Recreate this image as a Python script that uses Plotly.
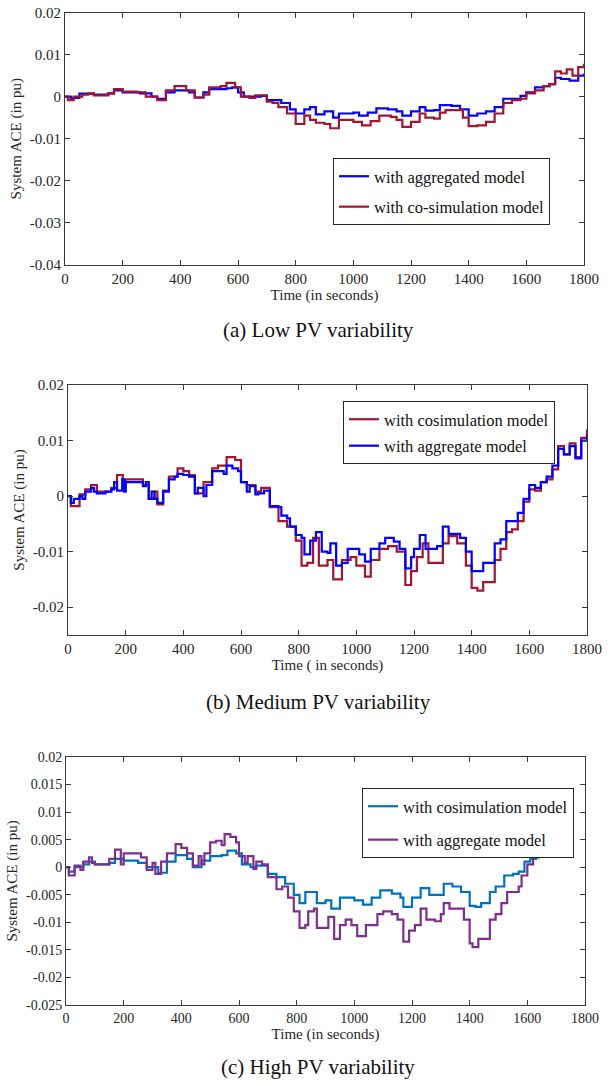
import plotly.graph_objects as go

# ---------------- DATA ----------------
# Panel (a) Low PV variability
t_a_agg = [0, 20, 50, 100, 150, 170, 200, 260, 300, 320, 350, 380, 430, 450, 480, 500, 560, 580, 600, 620,
           680, 700, 750, 780, 800, 830, 850, 870, 900, 930, 950, 1000, 1020, 1050, 1080, 1120, 1150, 1170,
           1200, 1230, 1250, 1280, 1300, 1340, 1370, 1400, 1430, 1460, 1490, 1520, 1560, 1580, 1600, 1630,
           1660, 1680, 1700, 1720, 1750, 1780, 1800]
v_a_agg = [0, -0.0003, 0.0007, 0.0005, 0.0008, 0.0015, 0.001, 0.0008, 0, -0.0005, 0.001, 0.0015, 0.001,
           -0.0002, 0.001, 0.0018, 0.002, 0.0022, 0.001, 0, 0.0002, -0.0008, -0.0015, -0.003, -0.004, -0.003,
           -0.0025, -0.0042, -0.0035, -0.005, -0.004, -0.0038, -0.0045, -0.0038, -0.0028, -0.003, -0.0035,
           -0.0045, -0.0035, -0.0025, -0.0033, -0.0032, -0.002, -0.0022, -0.003, -0.0045, -0.004, -0.0035,
           -0.0025, -0.0005, -0.0005, 0.0002, 0.001, 0.0022, 0.0025, 0.003, 0.0045, 0.0042, 0.0038, 0.005, 0.0055]

t_a_cos = [0, 10, 30, 60, 80, 100, 150, 170, 200, 250, 280, 320, 350, 380, 420, 450, 480, 500, 540, 560,
           590, 610, 640, 660, 700, 720, 740, 770, 800, 830, 850, 870, 900, 920, 950, 1000, 1030, 1060, 1090,
           1130, 1150, 1170, 1200, 1230, 1250, 1280, 1300, 1320, 1360, 1380, 1400, 1430, 1460, 1490, 1520,
           1550, 1580, 1600, 1630, 1660, 1680, 1700, 1720, 1740, 1760, 1780, 1800]
v_a_cos = [0, -0.0008, 0, 0.0005, 0.0008, 0.0003, 0.0008, 0.0018, 0.0012, 0.001, 0, -0.0008, 0.0015, 0.0025,
           0.0015, -0.0002, 0.0005, 0.0022, 0.0025, 0.0033, 0.0022, 0, -0.0003, 0.0003, -0.0012, -0.0015,
           -0.0025, -0.004, -0.0065, -0.0045, -0.0055, -0.0062, -0.0065, -0.0075, -0.0055, -0.006, -0.0068,
           -0.0058, -0.0045, -0.0048, -0.0055, -0.0072, -0.006, -0.004, -0.005, -0.0052, -0.0038, -0.0032,
           -0.0032, -0.005, -0.007, -0.0068, -0.006, -0.004, -0.0015, -0.0008, -0.0005, 0.0008, 0.0015,
           0.0025, 0.003, 0.006, 0.0055, 0.0065, 0.005, 0.007, 0.0078]

# Panel (b) Medium PV variability
t_b_cos = [0, 10, 40, 60, 80, 100, 150, 170, 190, 200, 230, 260, 280, 300, 310, 330, 350, 380, 400, 420,
           440, 470, 500, 520, 550, 580, 600, 620, 650, 670, 700, 730, 760, 790, 810, 830, 850, 870, 900,
           920, 950, 980, 1000, 1030, 1050, 1080, 1110, 1140, 1170, 1190, 1210, 1230, 1250, 1280, 1300,
           1320, 1350, 1380, 1400, 1420, 1440, 1460, 1480, 1500, 1520, 1540, 1560, 1580, 1600, 1620, 1640,
           1660, 1680, 1700, 1720, 1740, 1760, 1780, 1800]
v_b_cos = [0, -0.0018, 0.0003, 0.0012, 0.002, 0.0008, 0.0015, 0.0038, 0.001, 0.003, 0.003, 0.002, -0.0005,
           0.0008, -0.0015, 0.001, 0.0035, 0.005, 0.0045, 0.0038, 0.0005, 0.0025, 0.005, 0.0055, 0.007,
           0.0065, 0.0025, 0.002, 0.0008, 0.0015, -0.002, -0.0045, -0.0055, -0.008, -0.0125, -0.012, -0.0075,
           -0.0125, -0.0115, -0.015, -0.0115, -0.011, -0.0125, -0.0145, -0.0115, -0.0095, -0.009, -0.01,
           -0.016, -0.0135, -0.011, -0.0085, -0.012, -0.012, -0.0085, -0.0072, -0.0085, -0.0125, -0.0165,
           -0.017, -0.0155, -0.0155, -0.0115, -0.0095, -0.0065, -0.006, -0.0045, -0.001, 0.0012, 0.001,
           0.0025, 0.003, 0.0048, 0.009, 0.0075, 0.0095, 0.007, 0.0105, 0.012]

t_b_agg = [0, 10, 20, 40, 50, 60, 80, 90, 100, 130, 150, 160, 170, 188, 195, 200, 230, 260, 270, 280, 290,
           300, 310, 330, 350, 370, 380, 400, 420, 440, 450, 470, 480, 500, 520, 540, 550, 570, 590, 600,
           620, 630, 650, 660, 680, 700, 730, 740, 760, 770, 790, 810, 820, 840, 860, 880, 900, 910, 930,
           950, 970, 990, 1010, 1030, 1050, 1080, 1100, 1130, 1150, 1170, 1190, 1200, 1220, 1240, 1280,
           1300, 1320, 1360, 1380, 1400, 1420, 1440, 1460, 1480, 1500, 1520, 1540, 1560, 1580, 1600, 1620,
           1640, 1660, 1680, 1700, 1720, 1740, 1760, 1780, 1800]
v_b_agg = [0, -0.0012, -0.0005, 0, -0.0005, 0.0008, 0.0015, 0.0008, 0.0005, 0.0008, 0.0012, 0.0025, 0.001,
           0.003, 0.0008, 0.0025, 0.0025, 0.0018, 0.0025, -0.0005, 0.0008, -0.0005, -0.0012, 0.0008, 0.003,
           0.0035, 0.004, 0.0038, 0.0035, 0.0005, 0.0015, 0, 0.002, 0.0045, 0.0045, 0.004, 0.0055, 0.005,
           0.0045, 0.0025, 0.0008, 0.0018, 0.0003, 0.0005, 0.001, -0.0018, -0.002, -0.0035, -0.004, -0.0055,
           -0.007, -0.0075, -0.0105, -0.008, -0.0065, -0.01, -0.0102, -0.0085, -0.0125, -0.012, -0.0095,
           -0.0095, -0.0105, -0.0118, -0.0095, -0.0085, -0.0075, -0.0082, -0.0095, -0.013, -0.011, -0.0095,
           -0.007, -0.0095, -0.009, -0.0055, -0.0068, -0.0075, -0.01, -0.0135, -0.0135, -0.012, -0.012,
           -0.0085, -0.0078, -0.0045, -0.0045, -0.003, -0.0005, 0.002, 0.0015, 0.0025, 0.0035, 0.0055,
           0.0085, 0.0075, 0.009, 0.0068, 0.01, 0.011]

# Panel (c) High PV variability
t_c_cos = [0, 10, 30, 60, 80, 100, 150, 170, 200, 250, 280, 320, 350, 380, 420, 440, 470, 500, 540, 560,
           590, 610, 640, 660, 700, 730, 760, 790, 810, 830, 850, 870, 900, 920, 950, 1000, 1030, 1060,
           1090, 1130, 1160, 1170, 1200, 1230, 1260, 1290, 1310, 1340, 1370, 1400, 1420, 1440, 1470, 1490,
           1520, 1550, 1570, 1590, 1610, 1630, 1660]
v_c_cos = [0, -0.0008, 0, 0.0005, 0.001, 0.0005, 0.0008, 0.0015, 0.0012, 0.0008, 0, -0.001, 0.001, 0.0022,
           0.0015, 0, 0.0012, 0.002, 0.0022, 0.003, 0.0025, 0.0005, 0, 0.0003, -0.0012, -0.0018, -0.003,
           -0.005, -0.0065, -0.0045, -0.0045, -0.0065, -0.006, -0.0075, -0.0055, -0.006, -0.0068, -0.0055,
           -0.0042, -0.0048, -0.0055, -0.0072, -0.0055, -0.0038, -0.005, -0.005, -0.003, -0.0035, -0.0045,
           -0.007, -0.0072, -0.0065, -0.0045, -0.0035, -0.0015, -0.0012, -0.0008, 0.001, 0.0015, 0.003, 0.004]

t_c_agg = [0, 10, 30, 50, 60, 80, 90, 100, 150, 170, 190, 200, 230, 260, 280, 300, 310, 330, 350, 380, 400,
           420, 440, 460, 470, 480, 500, 520, 540, 550, 570, 590, 600, 620, 630, 650, 660, 680, 700, 720,
           730, 750, 770, 790, 810, 830, 840, 860, 870, 900, 910, 930, 950, 970, 990, 1010, 1030, 1040,
           1060, 1080, 1100, 1130, 1150, 1170, 1190, 1210, 1230, 1250, 1280, 1300, 1310, 1330, 1360, 1380,
           1400, 1410, 1430, 1450, 1470, 1490, 1510, 1530, 1550, 1570, 1580, 1600, 1620, 1640, 1660]
v_c_agg = [0, -0.0015, 0.0003, -0.0005, 0.001, 0.0018, 0.0008, 0.0005, 0.0015, 0.0032, 0.0005, 0.0025,
           0.0025, 0.0018, -0.0005, 0.0008, -0.0012, 0.001, 0.0025, 0.0042, 0.0035, 0.0025, 0.0003, 0.002,
           0.0005, 0.0025, 0.0045, 0.0048, 0.004, 0.006, 0.0055, 0.0045, 0.002, 0.0008, 0.002, -0.0003,
           0.001, 0.0005, -0.0018, -0.0018, -0.004, -0.0035, -0.0055, -0.008, -0.011, -0.0105, -0.008,
           -0.0075, -0.011, -0.011, -0.009, -0.013, -0.0105, -0.0095, -0.0105, -0.0125, -0.0125, -0.0105,
           -0.0105, -0.0085, -0.008, -0.0085, -0.0095, -0.0135, -0.0115, -0.0105, -0.0075, -0.0095, -0.0098,
           -0.0085, -0.0065, -0.0075, -0.0075, -0.0095, -0.0138, -0.0145, -0.013, -0.013, -0.0095, -0.0085,
           -0.0065, -0.0045, -0.0045, -0.0035, -0.0015, 0.0005, 0.0018, 0.0025, 0.005]

# Tick labels
x_ticks = [0, 200, 400, 600, 800, 1000, 1200, 1400, 1600, 1800]
y_ticks_a = [0.02, 0.01, 0, -0.01, -0.02, -0.03, -0.04]
y_text_a = ["0.02", "0.01", "0", "-0.01", "-0.02", "-0.03", "-0.04"]
y_ticks_b = [0.02, 0.01, 0, -0.01, -0.02]
y_text_b = ["0.02", "0.01", "0", "-0.01", "-0.02"]
y_ticks_c = [0.02, 0.015, 0.01, 0.005, 0, -0.005, -0.01, -0.015, -0.02, -0.025]
y_text_c = ["0.02", "0.015", "0.01", "0.005", "0", "-0.005", "-0.01", "-0.015", "-0.02", "-0.025"]

# ---------------- STYLE ----------------
W, H = 608, 1084
FONT = "Liberation Serif"
AX = "#3a3a3a"
BLUE = "#0000FF"
RED = "#A2142F"
MBLUE = "#0072BD"
PURPLE = "#7E2F8E"


def px_x(p):
    return p / W


def px_y(p):
    return 1 - p / H


fig = go.Figure()


def add(t, v, name, color, ax, legend, group):
    fig.add_trace(go.Scatter(
        x=t, y=v, name=name, mode="lines", line=dict(color=color, width=2.2, shape="hv"),
        xaxis="x" + ax, yaxis="y" + ax, legend=legend, legendgroup=group))


add(t_a_agg, v_a_agg, "with aggregated model", BLUE, "", "legend", "a1")
add(t_a_cos, v_a_cos, "with co-simulation model", RED, "", "legend", "a2")
add(t_b_cos, v_b_cos, "with cosimulation model", RED, "2", "legend2", "b1")
add(t_b_agg, v_b_agg, "with aggregate model", BLUE, "2", "legend2", "b2")
add(t_c_cos, v_c_cos, "with cosimulation model", MBLUE, "3", "legend3", "c1")
add(t_c_agg, v_c_agg, "with aggregate model", PURPLE, "3", "legend3", "c2")


def xaxis(domain, anchor, title, fs):
    return dict(domain=domain, anchor=anchor, range=[0, 1800], tickvals=x_ticks,
                ticktext=[str(v) for v in x_ticks], ticks="inside", ticklen=5, tickcolor=AX,
                showline=True, linecolor=AX, linewidth=1, mirror="ticks", showgrid=False, zeroline=False,
                automargin=False,
                tickfont=dict(family=FONT, size=fs, color="#262626"),
                title=dict(text=title, font=dict(family=FONT, size=15, color="#262626"), standoff=2))


def yaxis(domain, anchor, rng, vals, text, fs):
    return dict(domain=domain, anchor=anchor, range=rng, tickvals=vals, ticktext=text,
                ticks="inside", ticklen=5, tickcolor=AX, showline=True, linecolor=AX, linewidth=1,
                mirror="ticks", showgrid=False, zeroline=False, automargin=False,
                tickfont=dict(family=FONT, size=fs, color="#262626"),
                title=dict(text="System ACE (in pu)", font=dict(family=FONT, size=15, color="#262626"),
                           standoff=4))


leg_common = dict(bgcolor="white", bordercolor="#262626", borderwidth=1, xanchor="left", yanchor="top",
                  font=dict(family=FONT, size=16.5, color="#111"), traceorder="grouped")

fig.update_layout(
    width=W, height=H, margin=dict(l=0, r=0, t=0, b=0, autoexpand=False),
    paper_bgcolor="white", plot_bgcolor="white",
    xaxis=xaxis([px_x(65), px_x(584)], "y", "Time (in seconds)", 15),
    yaxis=yaxis([px_y(265), px_y(12.5)], "x", [-0.04, 0.02], y_ticks_a, y_text_a, 15),
    xaxis2=xaxis([px_x(68), px_x(587)], "y2", "Time ( in seconds)", 15),
    yaxis2=yaxis([px_y(635), px_y(385)], "x2", [-0.025, 0.02], y_ticks_b, y_text_b, 15),
    xaxis3=xaxis([px_x(66), px_x(585)], "y3", "Time (in seconds)", 14),
    yaxis3=yaxis([px_y(1005), px_y(757)], "x3", [-0.025, 0.02], y_ticks_c, y_text_c, 14),
    legend=dict(x=px_x(333), y=px_y(158), tracegroupgap=6, **leg_common),
    legend2=dict(x=px_x(343), y=px_y(401), tracegroupgap=2, **leg_common),
    legend3=dict(x=px_x(362), y=px_y(788), tracegroupgap=9, **leg_common),
    showlegend=True,
)

captions = [("(a) Low PV variability", 330), ("(b) Medium PV variability", 702),
            ("(c) High PV variability", 1067)]
for text, yy in captions:
    fig.add_annotation(text=text, xref="paper", yref="paper", x=px_x(318), y=px_y(yy),
                       xanchor="center", yanchor="middle", showarrow=False,
                       font=dict(family=FONT, size=21, color="#111"))

fig.write_html("out.html", config={"displayModeBar": False},
               post_script="document.body.style.margin='0';document.body.style.overflow='hidden';")
